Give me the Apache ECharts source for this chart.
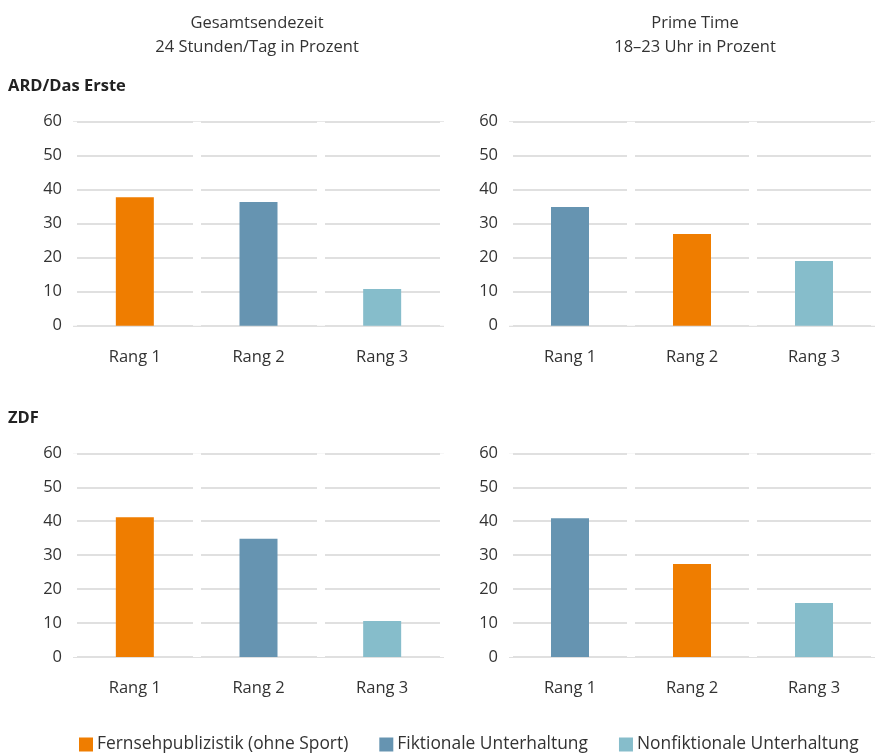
<!DOCTYPE html>
<html><head><meta charset="utf-8">
<script src="https://cdn.jsdelivr.net/npm/echarts@6/dist/echarts.min.js"></script>
<style>html,body{margin:0;padding:0;background:#fff}#c{width:875px;height:754px}</style>
</head><body><div id="c"></div>
<script>
const categories = ['Rang 1', 'Rang 2', 'Rang 3'];
const genres = ['Fernsehpublizistik (ohne Sport)', 'Fiktionale Unterhaltung', 'Nonfiktionale Unterhaltung'];
const genreColors = ['#EF7D00', '#6694B1', '#86BDCB'];
const yTicks = [0, 10, 20, 30, 40, 50, 60];
const columnTitles = ['Gesamtsendezeit\n24 Stunden/Tag in Prozent', 'Prime Time\n18–23 Uhr in Prozent'];
const rowTitles = ['ARD/Das Erste', 'ZDF'];
// genre index at each rank, and value at each rank
const ardGesamtGenre = [0, 1, 2];
const ardGesamtValues = [37.8, 36.4, 10.8];
const ardPrimeGenre = [1, 0, 2];
const ardPrimeValues = [34.9, 27.0, 19.0];
const zdfGesamtGenre = [0, 1, 2];
const zdfGesamtValues = [41.2, 34.8, 10.6];
const zdfPrimeGenre = [1, 0, 2];
const zdfPrimeValues = [40.9, 27.4, 15.9];

const panels = [
  {genre: ardGesamtGenre, values: ardGesamtValues},
  {genre: ardPrimeGenre, values: ardPrimeValues},
  {genre: zdfGesamtGenre, values: zdfGesamtValues},
  {genre: zdfPrimeGenre, values: zdfPrimeValues}
];
const gridPos = [
  {left: 73, width: 371, top: 121.7, height: 204},
  {left: 509, width: 370, top: 121.7, height: 204},
  {left: 73, width: 371, top: 453.3, height: 203.7},
  {left: 509, width: 370, top: 453.3, height: 203.7}
];
const FONT = '"Open Sans"';
const grids = [], xAxes = [], yAxes = [], series = [];
panels.forEach((p, i) => {
  grids.push(Object.assign({containLabel: false}, gridPos[i]));
  xAxes.push({
    type: 'category', gridIndex: i, data: categories, z: 1,
    axisLine: {show: false}, axisTick: {show: false},
    axisLabel: {color: '#333', fontSize: 16.5, fontFamily: FONT, margin: 23},
    splitLine: {show: true, interval: 0, lineStyle: {color: '#fff', width: 8}}
  });
  yAxes.push({
    type: 'value', gridIndex: i, min: yTicks[0], max: yTicks[yTicks.length - 1], interval: 10, z: 0,
    axisLine: {show: false}, axisTick: {show: false},
    axisLabel: {color: '#333', fontSize: 16.5, fontFamily: FONT, margin: 11, padding: [2, 0, 0, 0]},
    splitLine: {lineStyle: {color: '#d6d6d6', width: 1.5}}
  });
  genres.forEach((g, gi) => {
    series.push({
      type: 'bar', name: g, xAxisIndex: i, yAxisIndex: i, stack: 'p' + i,
      barWidth: 38, z: 2,
      itemStyle: {color: genreColors[gi]},
      data: p.genre.map((gg, r) => gg === gi ? p.values[r] : null)
    });
  });
});

const chart = echarts.init(document.getElementById('c'), null, {renderer: 'canvas'});
chart.setOption({
  animation: false,
  textStyle: {fontFamily: FONT},
  grid: grids, xAxis: xAxes, yAxis: yAxes, series: series,
  legend: {
    data: genres, left: 79, top: 736, padding: 0, itemWidth: 14, itemHeight: 14, itemGap: 31,
    icon: 'rect', selectedMode: false,
    textStyle: {color: '#333', fontSize: 17.4, fontFamily: FONT, padding: [0, 0, 0, -1]}
  },
  graphic: [
    {type: 'text', x: 257, y: 11, style: {text: columnTitles[0], align: 'center', fill: '#333', font: '16.5px ' + FONT, lineHeight: 24}},
    {type: 'text', x: 695, y: 11, style: {text: columnTitles[1], align: 'center', fill: '#333', font: '16.5px ' + FONT, lineHeight: 24}},
    {type: 'text', x: 8, y: 78, style: {text: rowTitles[0], fill: '#222', font: 'bold 16.5px ' + FONT}},
    {type: 'text', x: 8, y: 410, style: {text: rowTitles[1], fill: '#222', font: 'bold 16.5px ' + FONT}}
  ]
});
</script></body></html>
